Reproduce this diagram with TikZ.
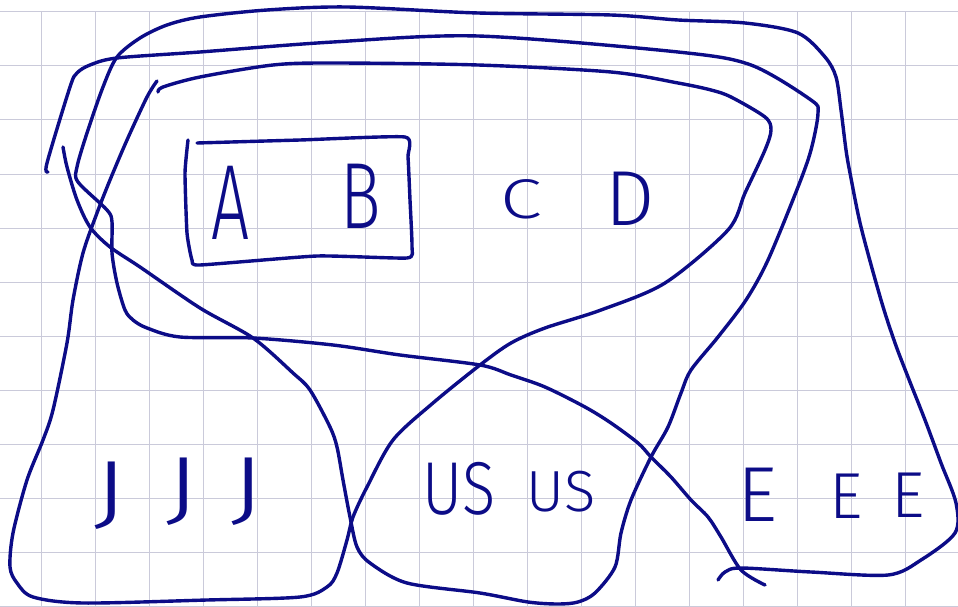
\documentclass[tikz,border=0pt]{standalone}
\usepackage{fontspec}
\newfontfamily\hand{Fira Sans}[UprightFont=* Light]
\definecolor{ink}{RGB}{12,12,135}
\definecolor{gridc}{RGB}{202,202,218}
\begin{document}
\begin{tikzpicture}[x=1pt,y=-1pt,
  stroke/.style={draw=ink, line width=3.4pt, line cap=round, line join=round},
  hw/.style={text=ink, inner sep=0pt, anchor=base},
  gridline/.style={draw=gridc, line width=1pt}]
\useasboundingbox (0,0) rectangle (958,607);
\fill[white] (0,0) rectangle (958,607);
\foreach \i in {0,...,16} \draw[gridline] ({41+54*\i},12) -- ({41+54*\i},607);
\foreach \j in {0,...,11} \draw[gridline] (0,{12+54*\j}) -- (958,{12+54*\j});

% E loop (outer)
\draw[stroke] plot[smooth, tension=0.5] coordinates {
 (718,580) (725,572) (741,568) (811,572) (888,575) (921,560) (955,533) (956,503)
 (941,463) (925,420) (908,377) (895,343) (881,300) (861,227) (850,173) (846,150)
 (841,110) (836,77) (825,57) (798,33) (745,23) (678,20) (611,15) (478,13) (347,7)
 (267,10) (200,17) (167,25) (140,38) (117,57) (103,87) (87,133) (77,167) (78,182)
 (107,210) (112,222) (112,253) (117,283) (125,310) (133,320) (147,328) (180,337)
 (253,338) (333,345) (400,355) (480,365) (511,375) (545,387) (585,407) (611,423)
 (638,443) (651,457) (671,477) (691,500) (708,517) (721,537) (741,570) (765,585)};

% US loop
\draw[stroke] plot[smooth, tension=0.5] coordinates {
 (63,147) (67,167) (77,200) (90,227) (110,247) (140,267) (200,308) (253,338)
 (293,373) (310,390) (330,427) (337,447) (343,480) (350,517) (357,547) (370,563)
 (407,583) (480,593) (528,602) (558,604) (578,602) (595,593) (615,567) (621,533)
 (631,500) (651,457) (668,427) (681,393) (691,370) (718,337) (746,300) (768,260)
 (798,187) (811,150) (818,113) (811,100) (751,65) (678,52) (478,36) (333,42)
 (200,52) (117,58) (90,65) (77,73) (70,87) (47,163) (48,172)};

% J loop
\draw[stroke] plot[smooth, tension=0.5] coordinates {
 (157,81) (147,97) (127,140) (110,180) (97,213) (83,253) (73,300) (67,343)
 (53,410) (43,440) (27,480) (13,533) (10,567) (17,583) (33,597) (83,603)
 (207,600) (300,597) (327,587) (337,573) (347,540) (353,517) (367,487) (393,440)
 (433,403) (480,365) (511,343) (545,328) (601,310) (665,283) (728,230) (745,193)
 (765,150) (771,130) (765,117) (731,97) (711,90) (678,83) (611,72) (478,65)
 (333,63) (273,65) (200,77) (163,87) (158,92)};

% box around A B
\draw[stroke] plot[smooth, tension=0.3] coordinates {
 (197,143) (300,140) (405,137) (408,157) (410,200) (412,247) (407,258) (317,256)
 (200,265) (192,260) (187,233) (185,173) (188,140)};

% letters
\node[hw, font=\hand\fontsize{107}{107}\selectfont, xscale=0.63] (A) at (231,239) {A};
\node[hw, font=\hand\fontsize{94}{94}\selectfont, xscale=0.72] (B) at (361,228) {B};
\node[hw, font=\hand\fontsize{56}{56}\selectfont, xscale=1.35] (C) at (521,218) {C};
\node[hw, font=\hand\fontsize{78}{78}\selectfont] (D) at (630,225) {D};
\node[hw, font=\hand\fontsize{84}{84}\selectfont, xscale=1.4] (J1) at (111,519) {J};
\node[hw, font=\hand\fontsize{84}{84}\selectfont, xscale=1.4] (J2) at (183,515) {J};
\node[hw, font=\hand\fontsize{84}{84}\selectfont, xscale=1.4] (J3) at (248,515) {J};
\node[hw, font=\hand\fontsize{75}{75}\selectfont, xscale=0.82] (US1) at (459,514) {US};
\node[hw, font=\hand\fontsize{58}{58}\selectfont] (US2) at (561,511) {US};
\node[hw, font=\hand\fontsize{78}{78}\selectfont] (E1) at (757,521) {E};
\node[hw, font=\hand\fontsize{65}{65}\selectfont] (E2) at (846,518) {E};
\node[hw, font=\hand\fontsize{65}{65}\selectfont] (E3) at (908,517) {E};
\end{tikzpicture}
\end{document}
